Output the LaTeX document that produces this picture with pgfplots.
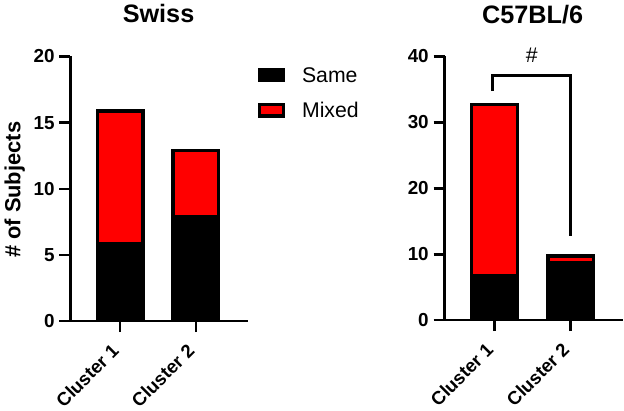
\documentclass[border=0pt]{standalone}
\usepackage{fontspec}
\setmainfont{Liberation Sans}
\usepackage{pgfplots}
\pgfplotsset{compat=1.18}

% 1 px of the reference = 0.75pt here
\definecolor{barred}{RGB}{255,0,0}

\pgfplotsset{
    clusterbars/.style={
        ybar stacked,
        scale only axis,
        axis lines=left,
        axis line style={-, black, line width=1.9pt},
        tick style={black, line width=1.9pt},
        major tick length=8.25pt,
        tick align=outside,
        axis on top,
        bar width=34.4pt,
        xmin=0.342, xmax=2.684,
        ymin=0,
        xtick={1,2},
        xticklabels={Cluster 1, Cluster 2},
        x tick label style={rotate=45, anchor=north east, font=\bfseries\fontsize{14}{14}\selectfont, inner sep=1pt, xshift=-9.5pt, yshift=0.8pt},
        y tick label style={font=\bfseries\fontsize{14.2}{14.2}\selectfont, inner sep=2pt, xshift=-1.5pt},
        /pgf/number format/assume math mode=true,
        every axis plot/.append style={line width=2.5pt, yshift=-1.25pt},
    },
}

\begin{document}
\begin{tikzpicture}
\path (0,0) rectangle (468pt,-308.25pt);

\begin{axis}[
    clusterbars,
    at={(51pt,-241.5pt)},
    anchor=south west,
    width=133.5pt,
    height=199.5pt,
    ymax=20,
    ytick={0,5,10,15,20},
    legend style={
        at={(1.033,0.98)}, anchor=north west,
        draw=none, fill=none,
        font=\fontsize{16}{16}\selectfont,
        row sep=9.75pt,
        legend cell align=left,
    },
    legend image code/.code={
        \draw[#1] (0pt,-2.4pt) rectangle (18.5pt,6pt);
    },
]
% Swiss
\addplot[fill=black, draw=black] coordinates {(1,6) (2,8)};
\addlegendentry{\hspace{10.5pt}Same}
\addplot[fill=barred, draw=black] coordinates {(1,10) (2,5)};
\addlegendentry{\hspace{10.5pt}Mixed}
\end{axis}

\begin{axis}[
    clusterbars,
    at={(333pt,-240.75pt)},
    anchor=south west,
    width=134.25pt,
    height=198.75pt,
    ymax=40,
    ytick={0,10,20,30,40},
]
% C57BL/6
\addplot[fill=black, draw=black] coordinates {(1,7) (2,9)};
\addplot[fill=barred, draw=black] coordinates {(1,26) (2,1)};
\end{axis}

\begin{scope}[x=0.75pt, y=-0.75pt]
\draw[line width=1.9pt, black, line join=miter] (492.3,90.7) -- (492.3,75) -- (570.7,75) -- (570.7,236);
\node[font=\fontsize{16}{16}\selectfont] at (531.7,55) {\#};
\node[font=\bfseries\fontsize{19}{19}\selectfont] at (156.6,13) {Swiss};
\node[font=\bfseries\fontsize{19}{19}\selectfont] at (532.5,14) {C57BL/6};
\node[font=\bfseries\fontsize{16.5}{16.5}\selectfont, rotate=90] at (12,190) {\# of Subjects};
\end{scope}
\end{tikzpicture}
\end{document}
